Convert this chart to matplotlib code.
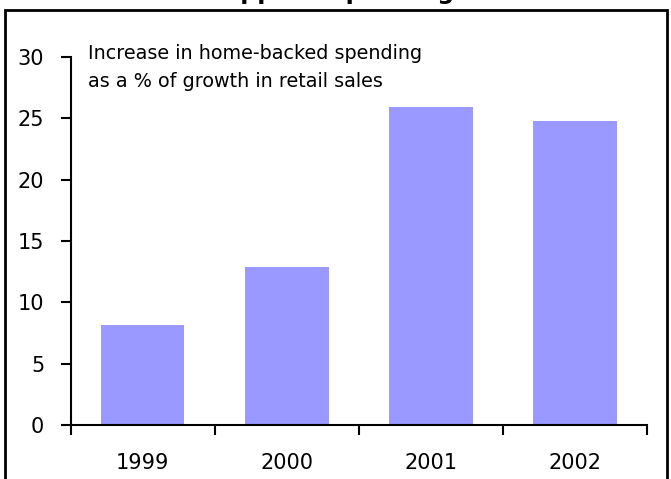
import matplotlib
matplotlib.use('Agg')
import matplotlib.pyplot as plt
from matplotlib.patches import Rectangle
import numpy as np

# data
years = ['1999', '2000', '2001', '2002']
share = [8.15, 12.9, 25.9, 24.8]
title = "Shoppers' spending"
note = 'Increase in home-backed spending\nas a % of growth in retail sales'

plt.rcParams['font.family'] = ['DejaVu Sans']

fig = plt.figure(figsize=(6.71, 4.79), dpi=100)
ax = fig.add_axes([0.1052, 0.1127, 0.9642 - 0.1052, 0.881 - 0.1127])

x = np.arange(len(years))
ax.bar(x, share, width=0.58, color='#9999FF')

ax.set_ylim(0, 30)
ax.set_xlim(-0.5, len(years) - 0.5)
ax.set_yticks(np.arange(0, 31, 5))
ax.set_xticks(np.arange(-0.5, len(years), 1))
ax.set_xticklabels([])
ax.set_xticks(x, minor=True)
ax.set_xticklabels(years, minor=True)
ax.tick_params(axis='x', which='major', direction='out', length=7, width=1.5)
ax.tick_params(axis='x', which='minor', length=0, pad=20, labelsize=15)
ax.tick_params(axis='y', direction='out', length=7, width=1.5, labelsize=15, pad=12)
for s in ['top', 'right']:
    ax.spines[s].set_visible(False)
for s in ['left', 'bottom']:
    ax.spines[s].set_linewidth(1.5)

ax.text(0.03, 1.035, note, transform=ax.transAxes, fontsize=13.8,
        va='top', ha='left', linespacing=1.6)

# outer frame, open at the bottom edge of the picture
fig.patches.append(Rectangle((5 / 671, -0.02), 662 / 671, 469 / 479 + 0.02,
                             transform=fig.transFigure, fill=False,
                             edgecolor='black', linewidth=2))

# title sits above the picture, only its descenders show
fig.text(0.48, 1 + 1 / 479, title, fontsize=17, fontweight='bold',
         ha='center', va='baseline')

fig.savefig('out.png', dpi=100)
